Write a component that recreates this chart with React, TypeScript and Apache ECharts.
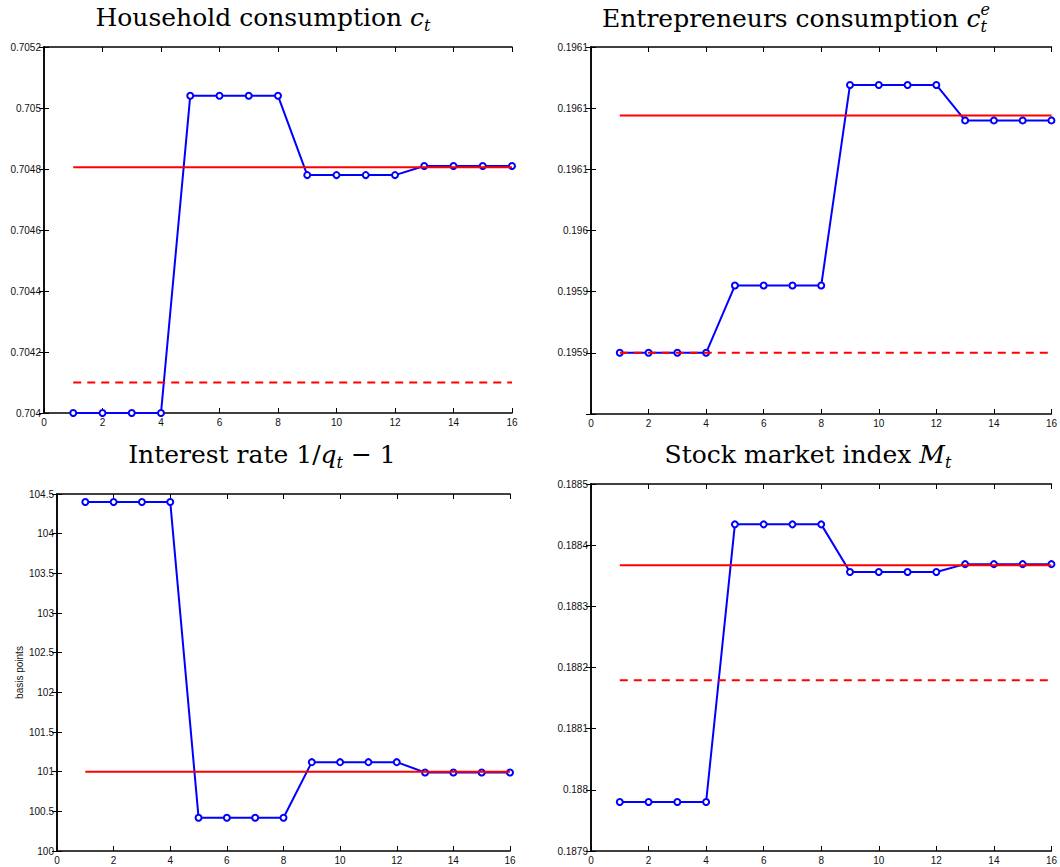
import React, { useEffect, useRef } from "react";
import * as echarts from "echarts";

// ---------- data ----------
const periods = [1, 2, 3, 4, 5, 6, 7, 8, 9, 10, 11, 12, 13, 14, 15, 16];

const householdCons = [
  0.704, 0.704, 0.704, 0.704, 0.70504, 0.70504, 0.70504, 0.70504,
  0.70478, 0.70478, 0.70478, 0.70478, 0.70481, 0.70481, 0.70481, 0.70481,
];
const householdSteady = 0.704806;
const householdDashed = 0.7041;
const householdTicks = ["0.704", "0.7042", "0.7044", "0.7046", "0.7048", "0.705", "0.7052"];

const entreCons = [
  0.1959, 0.1959, 0.1959, 0.1959, 0.195955, 0.195955, 0.195955, 0.195955,
  0.196119, 0.196119, 0.196119, 0.196119, 0.19609, 0.19609, 0.19609, 0.19609,
];
const entreSteady = 0.196094;
const entreDashed = 0.1959;
const entreTicks = ["", "0.1959", "0.1959", "0.196", "0.1961", "0.1961", "0.1961"];

const interestRate = [
  104.4, 104.4, 104.4, 104.4, 100.42, 100.42, 100.42, 100.42,
  101.12, 101.12, 101.12, 101.12, 100.99, 100.99, 100.99, 100.99,
];
const interestSteady = 101.0;
const interestTicks = ["100", "100.5", "101", "101.5", "102", "102.5", "103", "103.5", "104", "104.5"];

const stockIndex = [
  0.18798, 0.18798, 0.18798, 0.18798, 0.188434, 0.188434, 0.188434, 0.188434,
  0.188356, 0.188356, 0.188356, 0.188356, 0.188369, 0.188369, 0.188369, 0.188369,
];
const stockSteady = 0.188367;
const stockDashed = 0.188179;
const stockTicks = ["0.1879", "0.188", "0.1881", "0.1882", "0.1883", "0.1884", "0.1885"];

const xTickLabels = ["0", "2", "4", "6", "8", "10", "12", "14", "16"];

// ---------- layout ----------
const TITLE_FONT = "'DejaVu Serif', 'Liberation Serif', serif";
const LABEL_FONT = "'Liberation Sans', Arial, Helvetica, sans-serif";

type Part = { t: string; size: number; it?: boolean; dy?: number; stack?: boolean };

function buildTitle(parts: Part[], cx: number, cy: number) {
  const canvas = document.createElement("canvas");
  const ctx = canvas.getContext("2d") as CanvasRenderingContext2D;
  const fontOf = (p: Part) => `${p.it ? "italic " : ""}${p.size}px ${TITLE_FONT}`;
  const widths = parts.map((p) => {
    ctx.font = fontOf(p);
    return ctx.measureText(p.t).width;
  });
  const xs: number[] = [];
  let x = 0;
  let prevX = 0;
  let prevW = 0;
  parts.forEach((p, i) => {
    if (p.stack) {
      xs.push(prevX);
      x = Math.max(prevX + prevW, prevX + widths[i]);
    } else {
      xs.push(x);
      prevX = x;
      prevW = widths[i];
      x += widths[i];
    }
  });
  const total = x;
  const left = cx - total / 2;
  return parts.map((p, i) => ({
    type: "text",
    x: left + xs[i],
    y: cy + (p.dy || 0),
    silent: true,
    style: {
      text: p.t,
      fill: "#000",
      font: fontOf(p),
      textAlign: "left",
      align: "left",
      textVerticalAlign: "middle",
      verticalAlign: "middle",
    },
  }));
}

const grids = [
  { left: 44, top: 47, width: 468, height: 366 },
  { left: 591, top: 47, width: 467, height: 367 },
  { left: 57, top: 494, width: 453, height: 357 },
  { left: 591, top: 484, width: 467, height: 367 },
];

const yDefs = [
  { min: 0.704, max: 0.7052, interval: 0.0002, labels: householdTicks },
  { min: 0.19585, max: 0.19615, interval: 0.00005, labels: entreTicks },
  { min: 100, max: 104.5, interval: 0.5, labels: interestTicks },
  { min: 0.1879, max: 0.1885, interval: 0.0001, labels: stockTicks },
];

const axisLine = { show: true, lineStyle: { color: "#000", width: 1.5 } };
const axisTick = { show: true, inside: true, length: 5, lineStyle: { color: "#000", width: 1 } };

export default function App() {
  const ref = useRef<HTMLDivElement>(null);

  useEffect(() => {
    if (!ref.current) return;
    const chart = echarts.init(ref.current, undefined, { renderer: "svg" });

    const xAxis: any[] = [];
    const yAxis: any[] = [];
    grids.forEach((_, i) => {
      xAxis.push({
        type: "value",
        gridIndex: i,
        min: 0,
        max: 16,
        interval: 2,
        position: "bottom",
        axisLine,
        axisTick,
        splitLine: { show: false },
        axisLabel: {
          show: true,
          color: "#111",
          fontSize: 10,
          fontFamily: LABEL_FONT,
          margin: 4,
          formatter: (v: number) => xTickLabels[Math.round(v / 2)] ?? "",
        },
      });
      xAxis.push({
        type: "value",
        gridIndex: i,
        min: 0,
        max: 16,
        interval: 2,
        position: "top",
        axisLine,
        axisTick,
        splitLine: { show: false },
        axisLabel: { show: false },
      });
      const d = yDefs[i];
      yAxis.push({
        type: "value",
        gridIndex: i,
        min: d.min,
        max: d.max,
        interval: d.interval,
        position: "left",
        axisLine,
        axisTick,
        splitLine: { show: false },
        name: i === 2 ? "basis points" : "",
        nameLocation: "middle",
        nameRotate: 90,
        nameGap: 33,
        nameTextStyle: { fontSize: 10, fontFamily: LABEL_FONT, color: "#111" },
        axisLabel: {
          show: true,
          color: "#111",
          fontSize: 10,
          fontFamily: LABEL_FONT,
          margin: 3,
          formatter: (v: number) => d.labels[Math.round((v - d.min) / d.interval)] ?? "",
        },
      });
      yAxis.push({
        type: "value",
        gridIndex: i,
        min: d.min,
        max: d.max,
        interval: d.interval,
        position: "right",
        axisLine,
        axisTick,
        splitLine: { show: false },
        axisLabel: { show: false },
      });
    });

    const blueSeries = (idx: number, vals: number[]) => ({
      type: "line",
      xAxisIndex: idx * 2,
      yAxisIndex: idx * 2,
      data: periods.map((p, k) => [p, vals[k]]),
      symbol: "emptyCircle",
      symbolSize: 6,
      showSymbol: true,
      lineStyle: { color: "#0000ff", width: 2 },
      itemStyle: { color: "#0000ff", borderColor: "#0000ff", borderWidth: 2 },
      z: 2,
    });
    const redSeries = (idx: number, v: number, dashed: boolean) => ({
      type: "line",
      xAxisIndex: idx * 2,
      yAxisIndex: idx * 2,
      data: [
        [periods[0], v],
        [periods[periods.length - 1], v],
      ],
      symbol: "none",
      lineStyle: { color: "#ff0000", width: 2, type: dashed ? [8, 6] : "solid" },
      z: 3,
    });

    const series = [
      blueSeries(0, householdCons),
      redSeries(0, householdSteady, false),
      redSeries(0, householdDashed, true),
      blueSeries(1, entreCons),
      redSeries(1, entreSteady, false),
      redSeries(1, entreDashed, true),
      blueSeries(2, interestRate),
      redSeries(2, interestSteady, false),
      blueSeries(3, stockIndex),
      redSeries(3, stockSteady, false),
      redSeries(3, stockDashed, true),
    ];

    const graphic = [
      ...buildTitle(
        [
          { t: "Household consumption ", size: 25 },
          { t: "c", size: 25, it: true },
          { t: "t", size: 16, it: true, dy: 8 },
        ],
        263,
        17
      ),
      ...buildTitle(
        [
          { t: "Entrepreneurs consumption ", size: 25 },
          { t: "c", size: 25, it: true },
          { t: "t", size: 16, it: true, dy: 8 },
          { t: "e", size: 16, it: true, dy: -9, stack: true },
        ],
        796,
        18
      ),
      ...buildTitle(
        [
          { t: "Interest rate 1/", size: 25 },
          { t: "q", size: 25, it: true },
          { t: "t", size: 16, it: true, dy: 8 },
          { t: " \u2212 1", size: 25 },
        ],
        262,
        454
      ),
      ...buildTitle(
        [
          { t: "Stock market index ", size: 25 },
          { t: "M", size: 25, it: true },
          { t: "t", size: 16, it: true, dy: 8 },
        ],
        808,
        454
      ),
    ];

    chart.setOption({
      animation: false,
      backgroundColor: "#fff",
      grid: grids,
      xAxis,
      yAxis,
      series,
      graphic,
    });

    return () => chart.dispose();
  }, []);

  return (
    <div
      ref={ref}
      style={{ position: "absolute", left: 0, top: 0, width: 1060, height: 867 }}
    />
  );
}
